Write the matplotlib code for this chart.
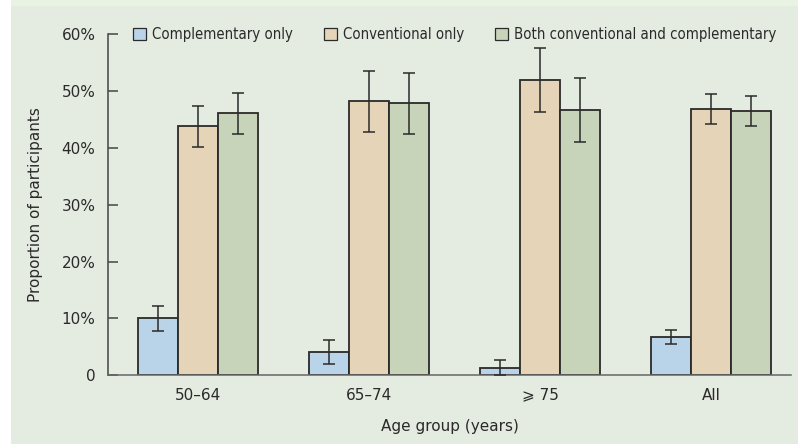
import matplotlib
matplotlib.use("Agg")
import matplotlib.pyplot as plt
from matplotlib.patches import Patch, Rectangle
import numpy as np

# data
groups = ["50\u201364", "65\u201374", "\u2a7e 75", "All"]
series = ["Complementary only", "Conventional only", "Both conventional and complementary"]
colors = ["#b9d4e9", "#e6d4b8", "#c7d4ba"]

values = [
    [10.0, 4.0, 1.3, 6.7],
    [43.8, 48.3, 52.0, 46.9],
    [46.1, 48.0, 46.7, 46.5],
]
err_low = [
    [7.8, 1.9, 0.0, 5.4],
    [40.1, 42.8, 46.4, 44.3],
    [42.5, 42.5, 41.1, 43.9],
]
err_high = [
    [12.2, 6.2, 2.6, 8.0],
    [47.4, 53.6, 57.7, 49.6],
    [49.7, 53.3, 52.4, 49.2],
]
yticks = [0, 10, 20, 30, 40, 50, 60]
ytick_labels = ["0", "10%", "20%", "30%", "40%", "50%", "60%"]

plt.rcParams["font.family"] = ["DejaVu Sans"]

bg = "#e4ebe0"
ink = "#2a2a2a"

fig = plt.figure(figsize=(7.98, 4.44), dpi=100, facecolor="white")
# panel background and top strip
fig.patches.append(Rectangle((11 / 798, 0), 1, 1 - 6 / 444, transform=fig.transFigure,
                             facecolor=bg, edgecolor="none", zorder=-10))
fig.patches.append(Rectangle((11 / 798, 1 - 6 / 444), 1, 6 / 444, transform=fig.transFigure,
                             facecolor="#e8f3e1", edgecolor="none", zorder=-10))

ax = fig.add_axes([108 / 798, 1 - 375 / 444, (791 - 108) / 798, (375 - 34.5) / 444])
ax.set_facecolor("none")

x = np.arange(len(groups))
w = 0.234
for i in range(3):
    pos = x + (i - 1) * w
    v = np.array(values[i])
    lo = v - np.array(err_low[i])
    hi = np.array(err_high[i]) - v
    ax.bar(pos, v, width=w, color=colors[i], edgecolor=ink, linewidth=1.3, zorder=2)
    ax.errorbar(pos, v, yerr=[lo, hi], fmt="none", ecolor=ink, elinewidth=1.1,
                capsize=4, capthick=1.1, zorder=3)

ax.set_xlim(-0.526, 3.468)
ax.set_ylim(0, 60)
ax.set_yticks(yticks)
ax.set_yticklabels(ytick_labels)
ax.set_xticks(x)
ax.set_xticklabels(groups)
ax.tick_params(axis="y", direction="in", length=7, width=1.1, color="#444444",
               labelsize=11, labelcolor=ink, pad=9)
ax.tick_params(axis="x", length=0, labelsize=11, labelcolor=ink, pad=9)

for s in ["top", "right"]:
    ax.spines[s].set_visible(False)
ax.spines["left"].set_color("#444444")
ax.spines["left"].set_linewidth(1.1)
ax.spines["bottom"].set_color("#666666")
ax.spines["bottom"].set_linewidth(1.1)

ax.set_ylabel("Proportion of participants", fontsize=11, color=ink)
ax.yaxis.set_label_coords(-(108 - 43) / (791 - 108), 0.5)
ax.set_xlabel("Age group (years)", fontsize=11, color=ink, labelpad=12)

handles = [Patch(facecolor=c, edgecolor=ink, linewidth=0.9) for c in colors]
leg = fig.legend(handles, series, loc="center left", bbox_to_anchor=(120 / 798, 1 - 35 / 444),
                 ncol=3, frameon=False, handlelength=0.85, handleheight=0.85,
                 handletextpad=0.4, columnspacing=2.1,
                 prop={"family": "DejaVu Sans", "stretch": "condensed", "size": 10.7})
for t in leg.get_texts():
    t.set_color(ink)

fig.savefig("out.png", dpi=100, facecolor="white")
